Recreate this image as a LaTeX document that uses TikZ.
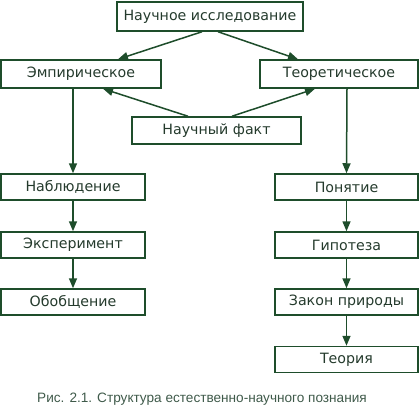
\documentclass[tikz,border=0pt]{standalone}
\usepackage{fontspec}
\setmainfont{DejaVu Sans}
\newfontfamily\capfont{Liberation Sans}
\usetikzlibrary{arrows.meta}

\definecolor{boxgreen}{HTML}{1E4D2B}
\definecolor{textgreen}{HTML}{243A2C}
\definecolor{capgreen}{HTML}{3F5A4A}

\begin{document}
\begin{tikzpicture}[
        x=1pt, y=-1pt,
        block/.style={
            rectangle,
            draw=boxgreen,
            line width=1.5pt,
            align=center,
            minimum height=26pt,
            text=textgreen,
            font=\fontsize{14.2}{16}\selectfont,
            inner sep=2pt
        },
        arrow/.style={-{Triangle[length=10pt,width=8pt]}, draw=boxgreen, fill=boxgreen, line width=1.5pt}
    ]
        \useasboundingbox (0,0) rectangle (420,409);

        % Top level
        \node[block, minimum width=186pt, minimum height=29pt] (research) at (210,16.5) {Научное исследование};
        \node[block, minimum width=160pt, minimum height=28pt] (empir) at (81,74) {Эмпирическое};
        \node[block, minimum width=158pt, minimum height=28pt] (theor) at (339,74) {Теоретическое};
        \node[block, minimum width=169pt, minimum height=27pt] (fact) at (216.5,130.5) {Научный факт};

        % Empirical path
        \node[block, minimum width=144pt] (observ) at (73,187) {Наблюдение};
        \node[block, minimum width=144pt] (exper) at (73,245) {Эксперимент};
        \node[block, minimum width=144pt] (general) at (73,302) {Обобщение};

        % Theoretical path
        \node[block, minimum width=143pt] (concept) at (346.5,187) {Понятие};
        \node[block, minimum width=143pt] (hypo) at (346.5,245) {Гипотеза};
        \node[block, minimum width=143pt] (law) at (346.5,302) {Закон природы};
        \node[block, minimum width=143pt] (theory) at (346.5,359.5) {Теория};

        % Arrows
        \draw[arrow] ([xshift=-8pt]research.south) -- ([xshift=37pt]empir.north);
        \draw[arrow] ([xshift=8pt]research.south) -- ([xshift=-41pt]theor.north);
        \draw[arrow] ([xshift=-28.5pt]fact.north) -- ([xshift=22pt]empir.south);
        \draw[arrow] ([xshift=15.5pt]fact.north) -- ([xshift=-24pt]theor.south);

        \draw[arrow] ([xshift=-8pt]empir.south) -- (observ.north);
        \draw[arrow] (observ.south) -- (exper.north);
        \draw[arrow] (exper.south) -- (general.north);

        \draw[arrow] ([xshift=8pt]theor.south) -- (concept.north);
        \draw[arrow] (concept.south) -- (hypo.north);
        \draw[arrow] (hypo.south) -- (law.north);
        \draw[arrow] (law.south) -- (theory.north);

        \node[text=capgreen, font=\capfont\fontsize{13.6}{15}\selectfont] (caption) at (202,399) {Рис. 2.1. Структура естественно-научного познания};

    \end{tikzpicture}
\end{document}
